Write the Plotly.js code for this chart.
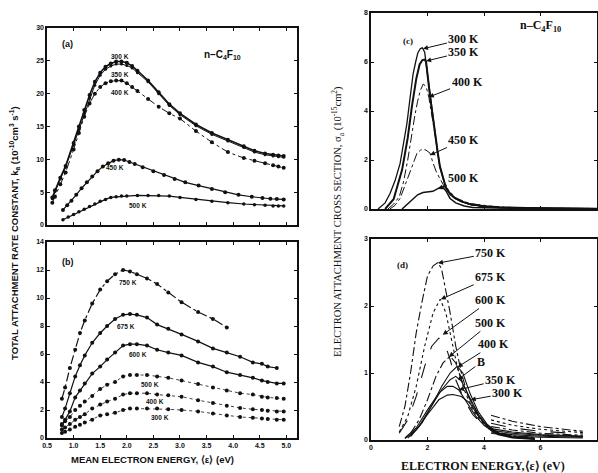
<!DOCTYPE html>
<html><head><meta charset="utf-8">
<script src="https://cdn.plot.ly/plotly-3.0.1.min.js"></script>
<style>html,body{margin:0;padding:0;background:#fff}#chart{width:598px;height:473px}</style>
</head><body><div id="chart"></div>
<script>
// ---------- Panel (a): total attachment rate constant, n-C4F10 ----------
const aX = [0.6,0.65,0.75,0.85,1.0,1.1,1.2,1.3,1.4,1.5,1.6,1.7,1.8,1.9,2.0,2.1,2.2,2.4,2.6,2.8,3.0,3.3,3.6,3.9,4.2,4.4,4.6,4.75,4.85,4.95];
const a300 = [4.2,5.3,7.2,9.0,12.5,15.0,17.5,19.8,21.8,23.2,24.1,24.6,24.9,24.9,24.7,24.2,23.5,22.0,20.2,18.4,17.0,15.3,14.0,13.0,12.0,11.3,10.9,10.7,10.6,10.5];
const a350 = [4.0,5.1,7.0,8.8,12.2,14.6,17.0,19.3,21.3,22.8,23.7,24.2,24.5,24.5,24.3,23.9,23.2,21.8,20.0,18.2,16.8,15.1,13.8,12.8,11.8,11.1,10.7,10.5,10.4,10.3];
const a400 = [3.4,4.3,6.2,8.0,11.5,14.0,16.5,18.5,20.0,21.0,21.6,21.9,22.0,22.0,21.6,21.0,20.4,19.2,18.0,17.0,16.2,14.3,12.6,11.1,10.2,9.8,9.4,9.1,8.9,8.7];
const a450X = [0.8,0.88,0.96,1.05,1.15,1.25,1.35,1.45,1.55,1.65,1.75,1.85,1.95,2.05,2.15,2.3,2.5,2.7,2.9,3.1,3.35,3.6,3.85,4.1,4.35,4.55,4.7,4.82,4.95];
const a450 = [2.3,3.0,3.7,4.6,5.6,6.5,7.4,8.2,8.9,9.4,9.8,9.95,9.9,9.6,9.3,8.8,8.2,7.6,7.0,6.5,6.0,5.5,5.0,4.6,4.3,4.1,4.0,3.95,3.9];
const a500X = [0.8,0.9,1.0,1.1,1.2,1.3,1.4,1.5,1.6,1.7,1.8,1.9,2.0,2.2,2.4,2.6,2.8,3.0,3.3,3.6,3.9,4.2,4.4,4.6,4.75,4.85,4.95];
const a500 = [0.8,1.2,1.6,2.0,2.4,2.8,3.2,3.6,3.9,4.2,4.3,4.4,4.4,4.5,4.5,4.5,4.4,4.2,3.9,3.6,3.4,3.2,3.1,3.0,2.9,2.9,2.9];

// ---------- Panel (b) ----------
const b750X = [0.78,0.84,0.93,1.03,1.12,1.21,1.35,1.5,1.63,1.78,1.93,2.06,2.19,2.38,2.57,2.78,3.03,3.34,3.62,3.88];
const b750 = [2.8,3.6,5.0,6.3,7.5,8.4,9.6,10.6,11.2,11.7,12.0,11.9,11.7,11.4,11.0,10.4,9.7,9.0,8.5,7.9];
const b675X = [0.78,0.84,0.93,1.03,1.12,1.21,1.35,1.5,1.63,1.78,1.93,2.06,2.19,2.38,2.57,2.78,3.03,3.34,3.62,3.88,4.13,4.37,4.54,4.65,4.82];
const b675 = [1.5,2.1,3.2,4.4,5.2,5.9,6.8,7.5,8.0,8.5,8.8,8.85,8.8,8.6,8.1,7.8,7.4,6.9,6.4,6.1,5.8,5.4,5.3,5.1,5.0];
const bX = [0.78,0.84,0.93,1.03,1.12,1.21,1.35,1.5,1.63,1.78,1.93,2.06,2.19,2.38,2.57,2.78,3.03,3.34,3.62,3.88,4.13,4.37,4.54,4.65,4.82,4.95];
const b600 = [0.9,1.3,1.9,2.9,3.4,3.9,4.6,5.1,5.6,6.1,6.6,6.7,6.7,6.6,6.3,6.1,5.9,5.4,5.1,4.7,4.5,4.3,4.1,4.0,3.9,3.9];
const b500 = [1.0,1.2,1.5,2.0,2.3,2.6,3.0,3.5,3.8,4.0,4.4,4.5,4.5,4.5,4.4,4.3,4.1,3.85,3.6,3.4,3.2,3.1,2.95,2.9,2.85,2.8];
const b400 = [0.6,0.75,1.0,1.3,1.5,1.7,2.1,2.4,2.6,2.8,3.1,3.2,3.2,3.2,3.1,3.05,2.95,2.7,2.5,2.3,2.15,2.05,2.0,1.95,1.9,1.9];
const b300 = [0.35,0.45,0.6,0.8,0.95,1.1,1.3,1.6,1.7,1.8,2.0,2.1,2.1,2.1,2.1,2.05,2.0,1.9,1.75,1.6,1.5,1.45,1.4,1.35,1.3,1.3];

// ---------- Panel (c): cross sections ----------
const c300X = [0.25,0.5,0.67,0.85,1.03,1.15,1.27,1.38,1.49,1.58,1.66,1.75,1.82,1.9,2.0,2.09,2.18,2.27,2.36,2.44,2.55,2.65,2.8,2.97,3.2,3.5,4.0,4.57,5.5,6.3,7.2,8.0];
const c300 = [0,0.25,0.62,1.15,1.86,2.6,3.48,4.5,5.51,6.0,6.38,6.55,6.58,6.4,5.5,4.57,3.75,2.96,2.3,1.71,1.2,0.86,0.6,0.43,0.3,0.19,0.1,0.06,0.03,0.02,0.015,0.01];
const c350X = [0.5,0.8,1.1,1.3,1.45,1.6,1.72,1.82,1.9,1.95,2.09,2.18,2.27,2.36,2.44,2.55,2.65,2.8,2.97,3.2,3.5,4.0,4.57,5.5,6.3,7.2,8.0];
const c350 = [0,0.4,1.6,2.9,4.2,5.3,5.9,6.08,6.1,6.0,4.6,3.8,2.98,2.32,1.73,1.22,0.88,0.62,0.45,0.31,0.2,0.11,0.07,0.04,0.025,0.018,0.012];
const c400X = [0.6,0.8,1.0,1.15,1.3,1.42,1.55,1.65,1.75,1.85,1.95,2.05,2.15,2.27,2.44,2.65,3.0,3.5,4.5,6.0,8.0];
const c400 = [0,0.2,0.5,1.1,2.0,2.9,3.8,4.4,4.85,5.1,5.0,4.55,3.9,3.0,1.75,0.9,0.45,0.22,0.08,0.03,0.015];
const c450X = [0.67,0.85,1.03,1.2,1.38,1.5,1.63,1.75,1.84,1.95,2.09,2.19,2.3,2.44,2.6,2.8,3.1,3.6,4.3,5.0,6.0,8.0];
const c450 = [0,0.15,0.43,0.95,1.57,1.95,2.28,2.4,2.44,2.4,2.28,1.9,1.55,1.24,0.9,0.62,0.35,0.14,0.08,0.05,0.03,0.02];
const c500X = [1.1,1.3,1.49,1.65,1.84,2.0,2.19,2.35,2.51,2.65,2.8,3.0,3.3,3.6,4.2,5.0,6.0,8.0];
const c500 = [0,0.2,0.43,0.58,0.67,0.7,0.72,0.82,0.92,0.75,0.43,0.25,0.12,0.06,0.04,0.03,0.02,0.015];

// ---------- Panel (d) ----------
const d750X = [1.0,1.2,1.4,1.6,1.8,2.0,2.2,2.37,2.5,2.65,2.8,3.0,3.2,3.4,3.7,4.0,4.4,5.0,5.8];
const d750 = [0.2,0.5,1.0,1.6,2.05,2.45,2.6,2.65,2.55,2.25,1.9,1.4,1.0,0.7,0.42,0.25,0.13,0.06,0.03];
const d675X = [1.0,1.3,1.6,1.9,2.2,2.45,2.65,2.85,3.05,3.3,3.6,3.9,4.3,5.0,5.8];
const d675 = [0.12,0.35,0.8,1.4,1.9,2.1,1.9,1.5,1.1,0.75,0.45,0.28,0.14,0.06,0.03];
const d600X = [1.0,1.3,1.6,1.9,2.15,2.4,2.6,2.8,3.0,3.3,3.6,3.9,4.3,5.0,5.8];
const d600 = [0.1,0.3,0.65,1.1,1.4,1.52,1.45,1.2,0.9,0.6,0.38,0.25,0.13,0.05,0.025];
const d500X = [1.4,1.7,2.0,2.3,2.55,2.8,3.0,3.2,3.5,3.8,4.1,4.5,5.0,5.8];
const d500 = [0.1,0.3,0.6,0.95,1.15,1.25,1.15,0.9,0.6,0.38,0.22,0.1,0.05,0.02];
const d400X = [1.4,1.8,2.2,2.5,2.8,3.05,3.25,3.5,3.8,4.1,4.5,5.0,5.8];
const d400 = [0.05,0.25,0.55,0.8,1.0,1.1,1.0,0.7,0.42,0.24,0.1,0.04,0.02];
const dBX = [1.3,1.7,2.1,2.5,2.8,3.0,3.2,3.5,3.8,4.1,4.5,5.0,5.8];
const dB = [0.03,0.2,0.48,0.75,0.9,0.95,0.88,0.62,0.38,0.22,0.09,0.04,0.015];
const d350X = [1.2,1.6,2.0,2.4,2.7,2.9,3.1,3.4,3.7,4.0,4.4,5.0,5.8];
const d350 = [0.03,0.18,0.45,0.7,0.8,0.8,0.75,0.55,0.36,0.22,0.1,0.04,0.015];
const d300X = [1.2,1.6,2.0,2.4,2.7,2.9,3.2,3.5,3.8,4.1,4.5,5.0,5.8];
const d300 = [0.02,0.15,0.38,0.6,0.67,0.68,0.65,0.55,0.36,0.2,0.08,0.03,0.01];
const dTailX = [4.25,5.0,6.0,7.0,7.5];
const t750 = [0.37,0.28,0.2,0.15,0.13];
const t675 = [0.3,0.22,0.16,0.12,0.11];
const t600 = [0.25,0.18,0.13,0.1,0.09];
const t500 = [0.2,0.15,0.1,0.08,0.07];
const t400 = [0.17,0.12,0.08,0.065,0.06];
const tB = [0.15,0.1,0.07,0.055,0.05];
const t350 = [0.12,0.08,0.055,0.045,0.04];
const t300 = [0.1,0.06,0.04,0.035,0.03];

const K = '#111';
function mk(x, y, xa, ya, dash, w, markers, msize) {
  return {x: x, y: y, xaxis: xa, yaxis: ya, type: 'scatter',
    mode: markers ? 'lines+markers' : 'lines',
    line: {color: K, width: w, dash: dash},
    marker: {color: K, size: msize || 4},
    connectgaps: false, hoverinfo: 'skip'};
}
function withTail(mx, my, tx, ty) {
  return [mx.concat([null], tx), my.concat([null], ty)];
}

const traces = [
  mk(aX, a300, 'x', 'y', 'solid', 1.6, true, 4),
  mk(aX, a350, 'x', 'y', 'solid', 1, true, 3),
  mk(aX, a400, 'x', 'y', 'dashdot', 1, true, 4),
  mk(a450X, a450, 'x', 'y', 'solid', 1.2, true, 4),
  mk(a500X, a500, 'x', 'y', 'solid', 1.2, true, 3.5),

  mk(b750X, b750, 'x2', 'y2', 'dashdot', 1.2, true, 4),
  mk(b675X, b675, 'x2', 'y2', 'solid', 1.2, true, 4),
  mk(bX, b600, 'x2', 'y2', 'solid', 1.2, true, 4),
  mk(bX, b500, 'x2', 'y2', 'dot', 0.8, true, 4),
  mk(bX, b400, 'x2', 'y2', 'dot', 0.8, true, 4),
  mk(bX, b300, 'x2', 'y2', 'dot', 0.8, true, 4),

  mk(c300X, c300, 'x3', 'y3', 'solid', 1.3),
  mk(c350X, c350, 'x3', 'y3', 'solid', 2),
  mk(c400X, c400, 'x3', 'y3', 'dashdot', 1),
  mk(c450X, c450, 'x3', 'y3', 'dashdot', 1),
  mk(c500X, c500, 'x3', 'y3', 'solid', 1.5)
];
const dSets = [
  [d750X, d750, t750, 'dashdot'], [d675X, d675, t675, 'dot'], [d600X, d600, t600, 'longdash'],
  [d500X, d500, t500, 'dashdot'], [d400X, d400, t400, 'solid'], [dBX, dB, tB, 'solid'],
  [d350X, d350, t350, 'solid'], [d300X, d300, t300, 'solid']
];
dSets.forEach(s => { const xy = withTail(s[0], s[1], dTailX, s[2]); traces.push(mk(xy[0], xy[1], 'x4', 'y4', s[3], 1.1)); });

const W = 598, H = 473;
const px = v => v / W, py = v => 1 - v / H;
const tickF = {family: 'Liberation Sans, Arial, sans-serif', size: 7, color: K, weight: 'bold'};
function ax(extra) {
  return Object.assign({showline: true, linecolor: K, linewidth: 1.6, mirror: 'ticks',
    ticks: 'inside', ticklen: 3, tickwidth: 1, tickcolor: K, showgrid: false, zeroline: false,
    tickfont: tickF, fixedrange: true}, extra);
}
const sans = {family: 'Liberation Sans, Arial, sans-serif', color: K};
const serif = {family: 'Liberation Serif, Times New Roman, serif', color: K};
function lab(text, x, y, xr, yr, size, fam) {
  return {text: text, x: x, y: y, xref: xr, yref: yr, showarrow: false,
    font: Object.assign({size: size}, fam), xanchor: 'center', yanchor: 'middle'};
}
function arr(text, tx, ty, lx, ly, n) {
  return {text: '<b>' + text + '</b>', x: tx, y: ty, ax: lx, ay: ly, xref: 'x' + n, yref: 'y' + n,
    axref: 'x' + n, ayref: 'y' + n, showarrow: true, arrowhead: 2, arrowsize: 1, arrowwidth: 1,
    arrowcolor: K, standoff: 0, font: Object.assign({size: 12}, serif)};
}

const annotations = [
  lab('<b>(a)</b>', 0.88, 27.5, 'x', 'y', 9, sans),
  lab('<b>n–C<sub>4</sub>F<sub>10</sub></b>', 3.79, 25.9, 'x', 'y', 10, sans),
  lab('<b>300 K</b>', 1.87, 25.7, 'x', 'y', 6.5, sans),
  lab('<b>350 K</b>', 1.87, 22.9, 'x', 'y', 6.5, sans),
  lab('<b>400 K</b>', 1.87, 20.2, 'x', 'y', 6.5, sans),
  lab('<b>450 K</b>', 1.78, 8.7, 'x', 'y', 6.5, sans),
  lab('<b>500 K</b>', 2.21, 2.9, 'x', 'y', 6.5, sans),

  lab('<b>(b)</b>', 0.9, 12.6, 'x2', 'y2', 9, sans),
  lab('<b>750 K</b>', 2.02, 11.1, 'x2', 'y2', 6.5, sans),
  lab('<b>675 K</b>', 1.98, 8.0, 'x2', 'y2', 6.5, sans),
  lab('<b>600 K</b>', 2.21, 6.0, 'x2', 'y2', 6.5, sans),
  lab('<b>500 K</b>', 2.44, 3.8, 'x2', 'y2', 6.5, sans),
  lab('<b>400 K</b>', 2.53, 2.6, 'x2', 'y2', 6.5, sans),
  lab('<b>300 K</b>', 2.62, 1.5, 'x2', 'y2', 6.5, sans),

  lab('<b>(c)</b>', 1.31, 6.85, 'x3', 'y3', 9, serif),
  lab('<b>n–C<sub>4</sub>F<sub>10</sub></b>', 6.0, 7.45, 'x3', 'y3', 12, serif),
  arr('300 K', 1.84, 6.54, 3.29, 6.94, 3),
  arr('350 K', 1.95, 6.04, 3.29, 6.41, 3),
  arr('400 K', 2.05, 4.57, 3.4, 5.18, 3),
  arr('450 K', 2.09, 2.2, 3.29, 2.82, 3),
  arr('500 K', 2.37, 0.82, 3.29, 1.27, 3),

  lab('<b>(d)</b>', 1.13, 2.61, 'x4', 'y4', 9, serif),
  arr('750 K', 2.37, 2.64, 4.24, 2.79, 4),
  arr('675 K', 2.47, 2.1, 4.24, 2.43, 4),
  arr('600 K', 2.54, 1.57, 4.24, 2.09, 4),
  arr('500 K', 2.76, 1.24, 4.24, 1.75, 4),
  arr('400 K', 3.07, 1.09, 4.35, 1.43, 4),
  arr('B', 3.07, 0.9, 3.89, 1.16, 4),
  arr('350 K', 3.11, 0.75, 4.59, 0.9, 4),
  arr('300 K', 3.53, 0.6, 4.84, 0.7, 4),

  Object.assign(lab('<b>TOTAL ATTACHMENT RATE CONSTANT, k<sub>a</sub> (10<sup>-10</sup>cm<sup>3</sup> s<sup>-1</sup>)</b>', px(14), py(233), 'paper', 'paper', 9.5, sans), {textangle: -90}),
  lab('<b>MEAN ELECTRON ENERGY, ⟨ε⟩ (eV)</b>', px(152), py(459), 'paper', 'paper', 9.5, sans),
  Object.assign(lab('ELECTRON ATTACHMENT CROSS SECTION, σ<sub>a</sub> (10<sup>-15</sup>cm<sup>2</sup>)', px(338), py(222), 'paper', 'paper', 10.5, serif), {textangle: -90}),
  lab('<b>ELECTRON ENERGY,⟨ε⟩ (eV)</b>', px(483), py(466), 'paper', 'paper', 12, serif)
];

const layout = {
  width: W, height: H, margin: {l: 0, r: 0, t: 0, b: 0},
  paper_bgcolor: '#fff', plot_bgcolor: '#fff', showlegend: false,
  xaxis: ax({domain: [px(47), px(297)], anchor: 'y', range: [0.5, 5.2], tick0: 0.5, dtick: 0.5, showticklabels: false}),
  yaxis: ax({domain: [py(225), py(28)], anchor: 'x', range: [0, 30], dtick: 5}),
  xaxis2: ax({domain: [px(47), px(297)], anchor: 'y2', range: [0.5, 5.2], tick0: 0.5, dtick: 0.5, tickformat: '.1f'}),
  yaxis2: ax({domain: [py(438), py(242)], anchor: 'x2', range: [0, 14], dtick: 2}),
  xaxis3: ax({domain: [px(371), px(597)], anchor: 'y3', range: [0, 8], dtick: 2, showticklabels: false}),
  yaxis3: ax({domain: [py(209), py(13)], anchor: 'x3', range: [0, 8], dtick: 2}),
  xaxis4: ax({domain: [px(371), px(597)], anchor: 'y4', range: [0, 8], dtick: 2}),
  yaxis4: ax({domain: [py(440), py(239)], anchor: 'x4', range: [0, 3], dtick: 1}),
  annotations: annotations
};
Plotly.newPlot('chart', traces, layout, {staticPlot: true, displayModeBar: false});
</script></body></html>
